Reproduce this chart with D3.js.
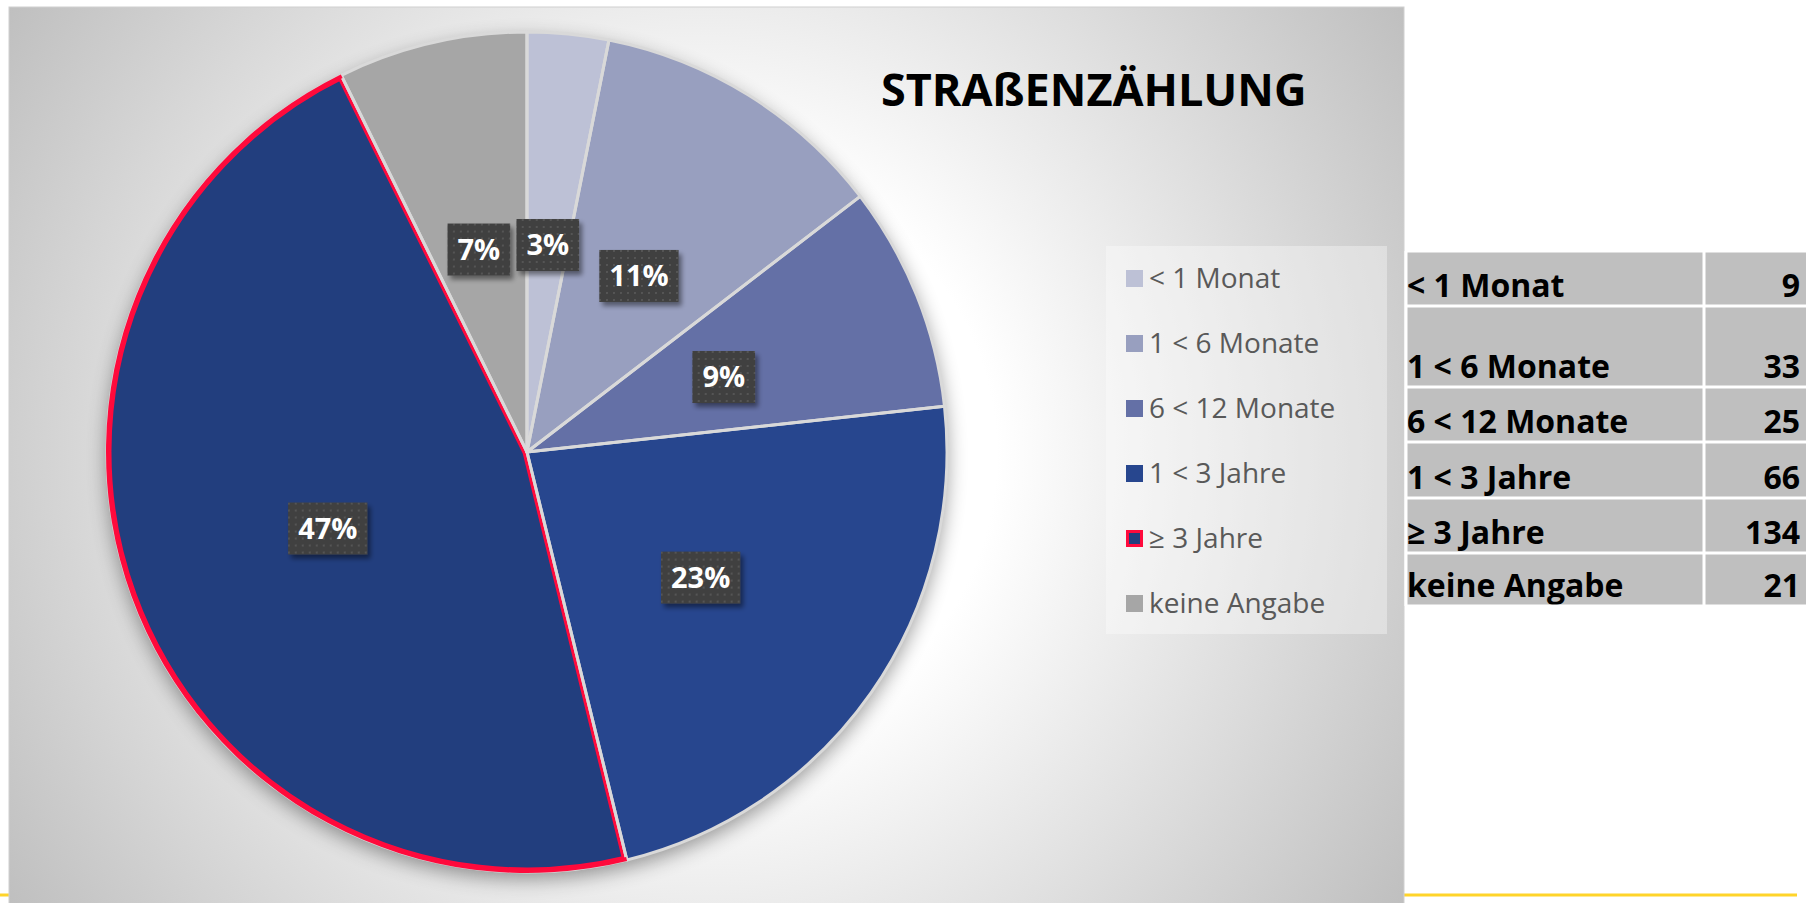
<!DOCTYPE html>
<html lang="de">
<head>
  <meta charset="UTF-8">
  <title>Straßenzählung</title>
  <script src="https://d3js.org/d3.v7.min.js"></script>
  <style>
    html, body { margin: 0; padding: 0; background: #fff; }
    svg { display: block; font-family: "Open Sans", sans-serif; }
  </style>
</head>
<body>
<svg width="1806" height="903"></svg>
<script>
const categories = ["< 1 Monat", "1 < 6 Monate", "6 < 12 Monate", "1 < 3 Jahre", "≥ 3 Jahre", "keine Angabe"];
const values = [9, 33, 25, 66, 134, 21];
const colors = ["#bdc1d6", "#989fbf", "#6470a6", "#27468e", "#223e7e", "#a6a6a6"];
const highlighted = "≥ 3 Jahre";

const svg = d3.select("svg");
const defs = svg.append("defs");

// background gradient of chart area
const bg = defs.append("radialGradient").attr("id", "bg")
  .attr("gradientUnits", "userSpaceOnUse")
  .attr("cx", 706).attr("cy", 455).attr("r", 830);
bg.append("stop").attr("offset", 0).attr("stop-color", "#ffffff");
bg.append("stop").attr("offset", 0.35).attr("stop-color", "#ffffff");
bg.append("stop").attr("offset", 1).attr("stop-color", "#bfbfbf");

// soft shadow under the pie
const ps = defs.append("filter").attr("id", "pieShadow")
  .attr("x", -0.2).attr("y", -0.2).attr("width", 1.4).attr("height", 1.4);
ps.append("feGaussianBlur").attr("in", "SourceAlpha").attr("stdDeviation", 10);
ps.append("feOffset").attr("dy", 7).attr("result", "b");
ps.append("feComponentTransfer").append("feFuncA").attr("type", "linear").attr("slope", 0.4);

// shadow of label boxes
const ls = defs.append("filter").attr("id", "labelShadow")
  .attr("x", -0.3).attr("y", -0.3).attr("width", 1.6).attr("height", 1.6);
ls.append("feGaussianBlur").attr("in", "SourceAlpha").attr("stdDeviation", 2.5);
ls.append("feOffset").attr("dx", 3).attr("dy", 4).attr("result", "off");
ls.append("feComponentTransfer").attr("result", "sh").append("feFuncA").attr("type", "linear").attr("slope", 0.45);
const lm = ls.append("feMerge");
lm.append("feMergeNode").attr("in", "sh");
lm.append("feMergeNode").attr("in", "SourceGraphic");

// dotted fill for label boxes
const pat = defs.append("pattern").attr("id", "dots")
  .attr("patternUnits", "userSpaceOnUse").attr("width", 7).attr("height", 7);
pat.append("rect").attr("width", 7).attr("height", 7).attr("fill", "#404040");
pat.append("rect").attr("x", 2).attr("y", 2).attr("width", 2).attr("height", 2).attr("fill", "#555555");

// yellow rule at the bottom
svg.append("line")
  .attr("x1", 0).attr("x2", 1797).attr("y1", 895).attr("y2", 895)
  .attr("stroke", "#ffd42a").attr("stroke-width", 3);

// chart area
svg.append("rect")
  .attr("x", 9).attr("y", 7).attr("width", 1395).attr("height", 900)
  .attr("fill", "url(#bg)").attr("stroke", "#d0d0d0").attr("stroke-width", 1);

// pie
const cx = 527, cy = 452, r = 420;
const pie = d3.pie().sort(null).value(d => d.value);
const arcs = pie(categories.map((c, i) => ({ name: c, value: values[i], color: colors[i] })));
const arc = d3.arc().innerRadius(0).outerRadius(r);
const labelArc = d3.arc().innerRadius(212).outerRadius(212);
const total = d3.sum(values);

const g = svg.append("g").attr("transform", `translate(${cx},${cy})`);

g.append("circle").attr("r", r).attr("fill", "#000").attr("filter", "url(#pieShadow)");

g.selectAll("path.slice").data(arcs).enter().append("path")
  .attr("class", "slice")
  .attr("d", arc)
  .attr("fill", d => d.data.color);

// red border of the highlighted slice, kept inside the slice
arcs.filter(d => d.data.name === highlighted).forEach(d => {
  defs.append("clipPath").attr("id", "hlClip")
    .append("path").attr("d", arc(d));
  g.append("path")
    .attr("d", arc(d))
    .attr("fill", "none")
    .attr("stroke", "#ff0a3c")
    .attr("stroke-width", 9)
    .attr("stroke-linejoin", "round")
    .attr("clip-path", "url(#hlClip)");
});

g.selectAll("path.border").data(arcs).enter().append("path")
  .attr("class", "border")
  .attr("d", arc)
  .attr("fill", "none")
  .attr("stroke", "#d9d9d9")
  .attr("stroke-width", 3)
  .attr("stroke-linejoin", "round");

// outer rim of highlighted slice in red
arcs.filter(d => d.data.name === highlighted).forEach(d => {
  g.append("path")
    .attr("d", d3.arc().innerRadius(r - 3).outerRadius(r + 1)(d))
    .attr("fill", "#ff0a3c");
});

// data labels
const labels = g.selectAll("g.lbl").data(arcs).enter().append("g")
  .attr("class", "lbl")
  .attr("transform", d => {
    const [x, y] = labelArc.centroid(d);
    return `translate(${x},${y + 4})`;
  });

labels.each(function(d) {
  const el = d3.select(this);
  const txt = Math.round(d.data.value / total * 100) + "%";
  const t = el.append("text")
    .attr("text-anchor", "middle")
    .attr("y", 10)
    .attr("font-size", 29)
    .attr("font-weight", 700)
    .attr("fill", "#ffffff")
    .text(txt);
  const w = t.node().getComputedTextLength() + 20;
  el.insert("rect", "text")
    .attr("x", -w / 2).attr("y", -26)
    .attr("width", w).attr("height", 52)
    .attr("fill", "url(#dots)")
    .attr("filter", "url(#labelShadow)");
});

// title
svg.append("text")
  .attr("x", 881).attr("y", 106)
  .attr("font-size", 45).attr("font-weight", 700)
  .attr("fill", "#000")
  .text("STRAßENZÄHLUNG");

// legend
svg.append("rect")
  .attr("x", 1106).attr("y", 246).attr("width", 281).attr("height", 388)
  .attr("fill", "#ffffff").attr("fill-opacity", 0.35);

const legend = svg.selectAll("g.leg").data(categories).enter().append("g")
  .attr("class", "leg")
  .attr("transform", (d, i) => `translate(1126,${288 + i * 65})`);

legend.append("rect")
  .attr("x", d => d === highlighted ? 1.5 : 0)
  .attr("y", d => d === highlighted ? -16.5 : -18)
  .attr("width", d => d === highlighted ? 14 : 17)
  .attr("height", d => d === highlighted ? 14 : 17)
  .attr("fill", (d, i) => colors[i])
  .attr("stroke", d => d === highlighted ? "#ff0a3c" : "none")
  .attr("stroke-width", 3);

legend.append("text")
  .attr("x", 23).attr("y", 0)
  .attr("font-size", 28)
  .attr("fill", "#595959")
  .text(d => d);

// data table
const rowEdges = [251, 306, 387, 442, 498, 553, 606];
const tx0 = 1406, tx1 = 1704, tx2 = 1806;
const table = svg.append("g");
categories.forEach((c, i) => {
  const y0 = rowEdges[i], y1 = rowEdges[i + 1];
  table.append("rect").attr("x", tx0).attr("y", y0).attr("width", tx1 - tx0).attr("height", y1 - y0)
    .attr("fill", "#bfbfbf");
  table.append("rect").attr("x", tx1).attr("y", y0).attr("width", tx2 - tx1).attr("height", y1 - y0)
    .attr("fill", "#bfbfbf");
  table.append("text").attr("x", tx0 + 1).attr("y", y1 - 9)
    .attr("font-size", 32).attr("font-weight", 700).attr("fill", "#000")
    .text(c);
  table.append("text").attr("x", 1800).attr("y", y1 - 9)
    .attr("text-anchor", "end")
    .attr("font-size", 32).attr("font-weight", 700).attr("fill", "#000")
    .text(values[i]);
});
rowEdges.forEach(y => {
  table.append("line").attr("x1", tx0).attr("x2", tx2).attr("y1", y).attr("y2", y)
    .attr("stroke", "#ffffff").attr("stroke-width", 3);
});
[tx0, tx1].forEach(x => {
  table.append("line").attr("x1", x).attr("x2", x).attr("y1", rowEdges[0]).attr("y2", rowEdges[6])
    .attr("stroke", "#ffffff").attr("stroke-width", 3);
});
</script>
</body>
</html>
